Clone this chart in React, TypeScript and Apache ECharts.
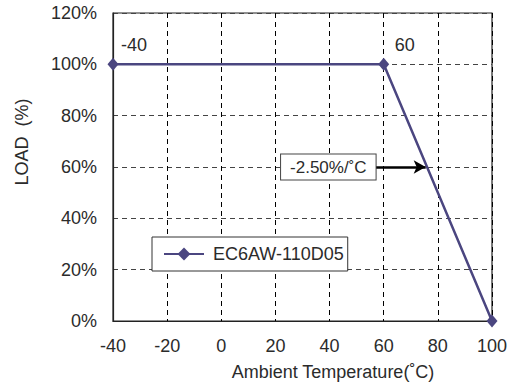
import React, { useEffect, useRef } from "react";
import * as echarts from "echarts";

const temperatures = [-40, 60, 100];
const loads = [100, 100, 0];
const pointLabels = ["-40", "60", ""];
const seriesName = "EC6AW-110D05";
const slopeText = "-2.50%/˚C";
const slopeArrow = { fromX: 57, toX: 75.5, y: 60 };
const xTicks = { min: -40, max: 100, interval: 20 };
const yTicks = { min: 0, max: 120, interval: 20 };

const FONT = "Liberation Sans, Arial, sans-serif";
const FS = 18;
const TEXT = "#2b2b2b";
const LINE = "#4b4680";

export default function App() {
  const ref = useRef<HTMLDivElement>(null);
  useEffect(() => {
    if (!ref.current) return;
    const chart = echarts.init(ref.current, undefined, { renderer: "svg" });
    const data = temperatures.map((t, i) => ({
      value: [t, loads[i]],
      label: {
        show: pointLabels[i] !== "",
        formatter: pointLabels[i],
        position: "top",
        offset: [21, 1],
        fontSize: FS,
        fontFamily: FONT,
        color: TEXT,
      },
    }));
    chart.setOption({
      animation: false,
      backgroundColor: "#fff",
      grid: {
        left: 113,
        top: 13,
        right: 20,
        bottom: 71,
        show: true,
        borderColor: "#222",
        borderWidth: 1.2,
      },
      legend: {
        left: 152,
        top: 237,
        orient: "horizontal",
        padding: [8, 4, 8, 11],
        borderColor: "#333",
        borderWidth: 1,
        backgroundColor: "#fff",
        itemWidth: 40,
        itemHeight: 16,
        textStyle: { fontSize: FS, fontFamily: FONT, color: TEXT, padding: [0, 0, 0, 4] },
        data: [{ name: seriesName }],
      },
      xAxis: {
        type: "value",
        min: xTicks.min,
        max: xTicks.max,
        interval: xTicks.interval,
        name: "Ambient Temperature(˚C)",
        nameLocation: "middle",
        nameGap: 42,
        nameTextStyle: { fontSize: FS, fontFamily: FONT, color: TEXT, padding: [0, 0, 0, 61] },
        axisLine: { show: true, onZero: false, lineStyle: { color: "#222", width: 1.2 } },
        axisTick: { show: false },
        axisLabel: { fontSize: FS, fontFamily: FONT, color: TEXT, margin: 16 },
        splitLine: { show: true, lineStyle: { color: "#000", type: [5, 4], width: 1, opacity: 1 } },
      },
      yAxis: {
        type: "value",
        min: yTicks.min,
        max: yTicks.max,
        interval: yTicks.interval,
        name: "LOAD  (%)",
        nameLocation: "middle",
        nameGap: 82,
        nameRotate: 90,
        nameTextStyle: { fontSize: FS, fontFamily: FONT, color: TEXT, padding: [0, 0, 0, 50] },
        axisLine: { show: true, onZero: false, lineStyle: { color: "#222", width: 1.2 } },
        axisTick: { show: false },
        axisLabel: { fontSize: FS, fontFamily: FONT, color: TEXT, margin: 16, formatter: "{value}%" },
        splitLine: { show: true, lineStyle: { color: "#444", type: [5, 4], width: 1, opacity: 1 } },
      },
      series: [
        {
          name: seriesName,
          type: "line",
          data,
          symbol: "diamond",
          symbolSize: [11, 13],
          lineStyle: { color: LINE, width: 2.5 },
          itemStyle: { color: LINE },
          markLine: {
            silent: true,
            symbol: ["none", "arrow"],
            symbolSize: [10, 12],
            lineStyle: { color: "#000", width: 2.5, type: "solid" },
            label: {
              show: true,
              position: "start",
              distance: 0,
              formatter: slopeText,
              fontSize: 17,
              fontFamily: FONT,
              color: TEXT,
              backgroundColor: "#fff",
              borderColor: "#444",
              borderWidth: 1,
              padding: [4, 9, 4, 9],
            },
            data: [
              [
                { coord: [slopeArrow.fromX, slopeArrow.y] },
                { coord: [slopeArrow.toX, slopeArrow.y] },
              ],
            ],
          },
        },
      ],
    });
    return () => chart.dispose();
  }, []);
  return (
    <div
      ref={ref}
      style={{ position: "fixed", left: 0, top: 0, width: 512, height: 392 }}
    />
  );
}
